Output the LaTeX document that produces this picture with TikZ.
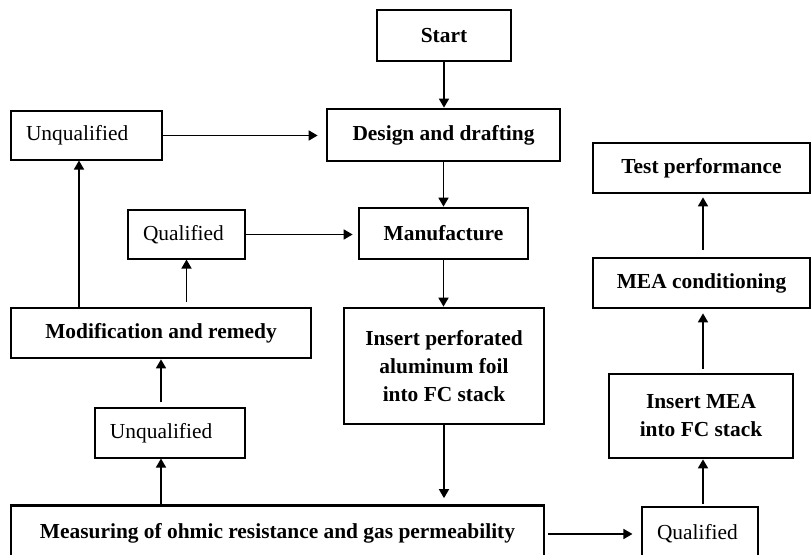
\documentclass[tikz,border=0pt]{standalone}
\usepackage{fontspec}
\setmainfont{Liberation Serif}
\usetikzlibrary{arrows.meta}

\begin{document}
\begin{tikzpicture}[x=0.5pt, y=-0.5pt,
    bigbox/.style={draw, line width=1.35pt, inner sep=0pt, align=center,
        font=\fontsize{10.7}{14}\selectfont\bfseries},
    smallbox/.style={draw, line width=0.55pt, inner xsep=7.5pt, inner ysep=0pt,
        align=left, minimum height=24.5pt, font=\fontsize{10.7}{14}\selectfont},
    arr/.style={-{Triangle[length=4.5pt, width=5pt]}, line width=0.85pt}]
    \useasboundingbox (0, 0) rectangle (811, 555);

    \node[bigbox, minimum width=67pt, minimum height=25.5pt](start) at (444, 35.5) {Start};
    \node[bigbox, minimum width=116.5pt, minimum height=26pt](design) at (443.5, 135) {Design and drafting};
    \node[bigbox, minimum width=84.5pt, minimum height=25.5pt](manuf) at (443.5, 233.5) {Manufacture};
    \node[bigbox, minimum width=100pt, minimum height=58pt](foil) at (444, 366) {Insert perforated\\aluminum foil\\into FC stack};
    \node[bigbox, minimum width=266.5pt, minimum height=27.5pt](measure) at (277.5, 533) {Measuring of ohmic resistance and gas permeability};

    %%%%%%%%%%%%%%%%%%%%%%%%%%%%%%%%%%%%%%%%%%%%%%%%%%%%%%

    \node[smallbox, text width=60.5pt](unqtop) at (86.5, 135.5) {Unqualified};
    \node[smallbox, text width=43.5pt](qualmid) at (186.5, 234.5) {Qualified};
    \node[bigbox, minimum width=150pt, minimum height=25pt](modif) at (161, 333) {Modification and remedy};
    \node[smallbox, text width=60pt, minimum height=25pt](unqlow) at (170, 433) {Unqualified};

    %%%%%%%%%%%%%%%%%%%%%%%%%%%%%%%%%%%%%%%%%%%%%%%%%%%%%%

    \node[smallbox, text width=43pt, minimum height=27pt](qualbot) at (700, 534) {Qualified};
    \node[bigbox, minimum width=92pt, minimum height=42pt](insmea) at (701, 416) {Insert MEA\\into FC stack};
    \node[bigbox, minimum width=108.5pt, minimum height=25pt](meacond) at (701.5, 283) {MEA conditioning};
    \node[bigbox, minimum width=108.5pt, minimum height=25pt](testperf) at (701.5, 168) {Test performance};

    %%%%%%%%%%%%%%%%%%%%%%%%%%%%%%%%%%%%%%%%%%%%%%%%%%%%%%

    \draw[arr] (start.south) -- (start.south |- design.north);
    \draw[arr] (design.south) -- (design.south |- manuf.north);
    \draw[arr] (manuf.south) -- (manuf.south |- foil.north);
    \draw[arr, shorten >=3pt] (foil.south) -- (foil.south |- measure.north);

    \draw[arr, shorten >=4pt] (unqtop.east) -- (unqtop.east -| design.west);
    \draw[arr, shorten >=2.5pt] (qualmid.east) -- (qualmid.east -| manuf.west);

    \draw[arr] (modif.north |- measure.north) -- (modif.north |- unqlow.south);
    \draw[arr, shorten <=2.5pt] (modif.south |- unqlow.north) -- (modif.south);
    \draw[arr, shorten <=2.5pt] (qualmid.south |- modif.north) -- (qualmid.south);
    \coordinate (upleft) at ([xshift=-3.75pt]unqtop.south);
    \draw[arr] (upleft |- modif.north) -- (upleft);

    %%%%%%%%%%%%%%%%%%%%%%%%%%%%%%%%%%%%%%%%%%%%%%%%%%%%%%

    \draw[arr, shorten <=1.5pt, shorten >=4.5pt] (measure.east |- qualbot.west) -- (qualbot.west);
    \draw[arr, shorten <=1pt] ([xshift=1.5pt]qualbot.north) -- ([xshift=1.5pt]qualbot.north |- insmea.south);
    \draw[arr, shorten <=2pt, shorten >=2pt] ([xshift=1pt]insmea.north) -- ([xshift=1pt]insmea.north |- meacond.south);
    \draw[arr, shorten <=3.5pt, shorten >=1.5pt] ([xshift=0.75pt]meacond.north) -- ([xshift=0.75pt]meacond.north |- testperf.south);
\end{tikzpicture}
\end{document}
